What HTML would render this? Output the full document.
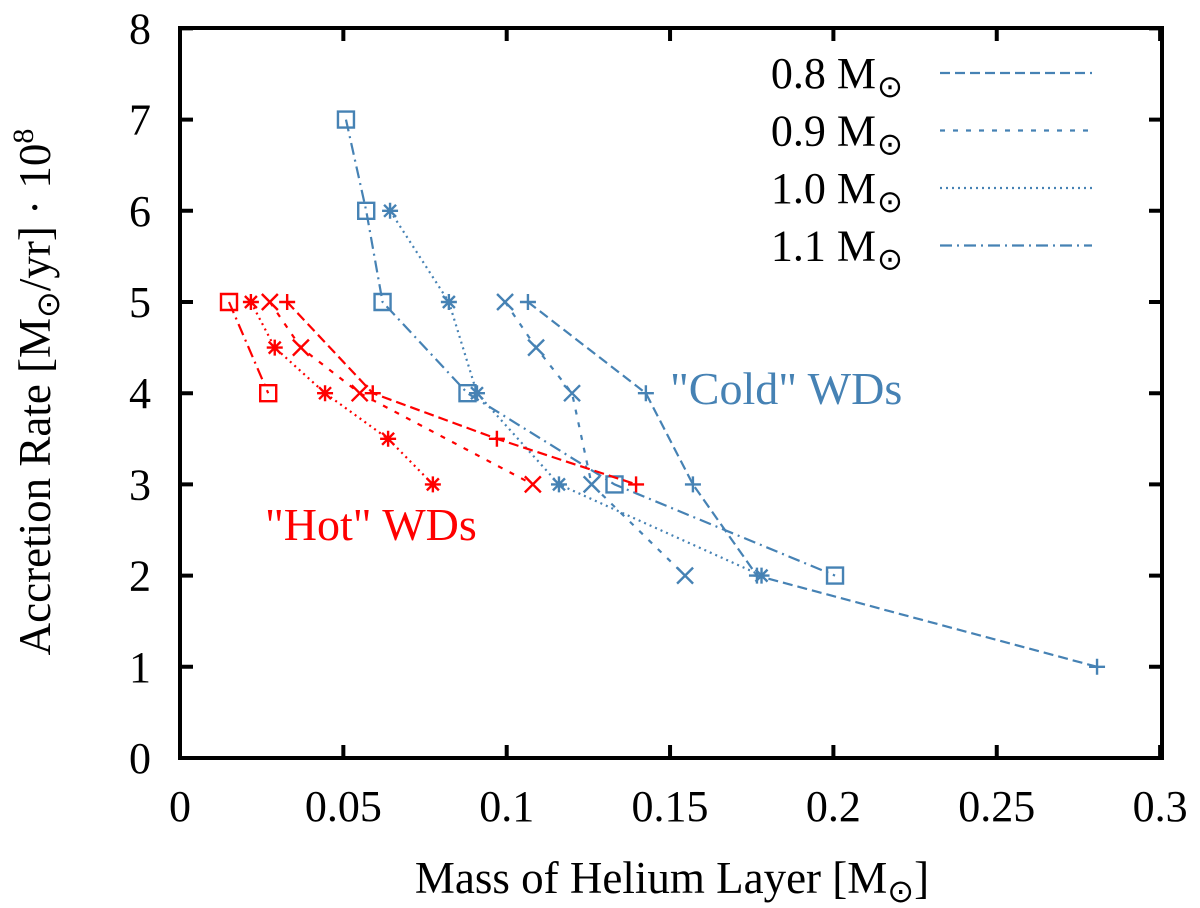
<!DOCTYPE html>
<html><head><meta charset="utf-8"><style>
body{margin:0;background:#fff}
svg{display:block;font-family:"Liberation Serif",serif}
</style></head><body>
<svg id="chart" width="1200" height="908" viewBox="0 0 1200 908" xmlns="http://www.w3.org/2000/svg">
<g id="marks"></g>
<rect x="180" y="28" width="982" height="730" fill="none" stroke="#000" stroke-width="4"/>
<g id="axes"></g>
<text x="672" y="893" font-size="45" text-anchor="middle">Mass of Helium Layer [M<tspan font-size="32" dy="9">⊙</tspan><tspan dy="-9">]</tspan></text>
<text transform="translate(50,392) rotate(-90)" font-size="45" text-anchor="middle">Accretion Rate [M<tspan font-size="32" dy="9">⊙</tspan><tspan dy="-9">/yr] · 10</tspan><tspan font-size="30" dy="-17">8</tspan></text>
<text x="265" y="540" font-size="46" fill="#ff0000">"Hot" WDs</text>
<text x="670" y="404" font-size="46" fill="#4682b4">"Cold" WDs</text>
<g id="legend"></g>
</svg>
<script>
const xTicks=[0,0.05,0.1,0.15,0.2,0.25,0.3];
const xTickLabels=["0","0.05","0.1","0.15","0.2","0.25","0.3"];
const yTicks=[0,1,2,3,4,5,6,7,8];
const seriesNames=["0.8 M","0.9 M","1.0 M","1.1 M"];
const cold08X=[0.1065,0.1426,0.157,0.1766,0.2807]; const cold08Y=[5,4,3,2,1];
const cold09X=[0.0995,0.109,0.120,0.126,0.1546]; const cold09Y=[5,4.5,4,3,2];
const cold10X=[0.0643,0.0823,0.0909,0.116,0.178]; const cold10Y=[6,5,4,3,2];
const cold11X=[0.0508,0.057,0.062,0.088,0.133,0.2005]; const cold11Y=[7,6,5,4,3,2];
const hot08X=[0.0328,0.059,0.097,0.1396]; const hot08Y=[5,4,3.5,3];
const hot09X=[0.0275,0.037,0.055,0.108]; const hot09Y=[5,4.5,4,3];
const hot10X=[0.0217,0.029,0.0444,0.0637,0.0774]; const hot10Y=[5,4.5,4,3.5,3];
const hot11X=[0.015,0.027]; const hot11Y=[5,4];

const NS="http://www.w3.org/2000/svg";
const X=v=>180+v*3267, Y=v=>758-v*91.2;
const BLUE="#4682b4", RED="#ff0000";
const dashes=["10,5","5,8","2,4","12,5,2,5"];
const markers=["plus","x","star","square"];
function mk(tag,attrs,parent){const e=document.createElementNS(NS,tag);for(const k in attrs)e.setAttribute(k,attrs[k]);parent.appendChild(e);return e;}
const marks=document.getElementById('marks'), axes=document.getElementById('axes'), legend=document.getElementById('legend');

xTicks.forEach((t,i)=>{
  const p=mk('path',{d:`M${X(t)},758v-13M${X(t)},28v13`,stroke:'#000','stroke-width':4},axes);
  
  
  const tx=mk('text',{x:X(t),y:821,'font-size':44,'text-anchor':'middle'},axes);
  tx.textContent=xTickLabels[i];
  
  
});
yTicks.forEach(t=>{
  const p=mk('path',{d:`M180,${Y(t)}h13M1162,${Y(t)}h-13`,stroke:'#000','stroke-width':4},axes);
  
  
  const tx=mk('text',{x:151,y:Y(t)+15,'font-size':44,'text-anchor':'end'},axes);
  tx.textContent=String(t);
  
  
});

function marker(type,x,y,c,g){
  const s=8;let d;
  if(type==='plus')d=`M${x-s},${y}h${2*s}M${x},${y-s}v${2*s}`;
  else if(type==='x')d=`M${x-s},${y-s}l${2*s},${2*s}M${x-s},${y+s}l${2*s},${-2*s}`;
  else if(type==='star')d=`M${x-s},${y}h${2*s}M${x},${y-s}v${2*s}M${x-6},${y-6}l12,12M${x-6},${y+6}l12,-12`;
  else d=`M${x-8},${y-8}h16v16h-16z`;
  const p=mk('path',{d,stroke:c,'stroke-width':2.4,fill:'none'},g);
  
  
}
const series=[
 [cold08X,cold08Y,BLUE,0,'cold-0.8'],[cold09X,cold09Y,BLUE,1,'cold-0.9'],[cold10X,cold10Y,BLUE,2,'cold-1.0'],[cold11X,cold11Y,BLUE,3,'cold-1.1'],
 [hot08X,hot08Y,RED,0,'hot-0.8'],[hot09X,hot09Y,RED,1,'hot-0.9'],[hot10X,hot10Y,RED,2,'hot-1.0'],[hot11X,hot11Y,RED,3,'hot-1.1']];
series.forEach(([xs,ys,c,k,name])=>{
  const g=mk('g',{},marks);
  
  
  const pl=mk('polyline',{points:xs.map((v,i)=>X(v)+','+Y(ys[i])).join(' '),fill:'none',stroke:c,'stroke-width':2.2,'stroke-dasharray':dashes[k]},g);
  
  
  xs.forEach((v,i)=>marker(markers[k],X(v),Y(ys[i]),c,g));
});
seriesNames.forEach((n,i)=>{
  const y=73+i*57.5;
  const g=mk('g',{},legend);
  
  
  const t=mk('text',{x:876,y:y+15,'font-size':44,'text-anchor':'end'},g);
  t.textContent=n;
  const sun=mk('text',{x:877,y:y+24,'font-size':31},g);
  sun.textContent='⊙';
  const l=mk('line',{x1:940,x2:1092,y1:y,y2:y,stroke:BLUE,'stroke-width':2.2,'stroke-dasharray':dashes[i]},g);
  
  
});
</script>
</body></html>
